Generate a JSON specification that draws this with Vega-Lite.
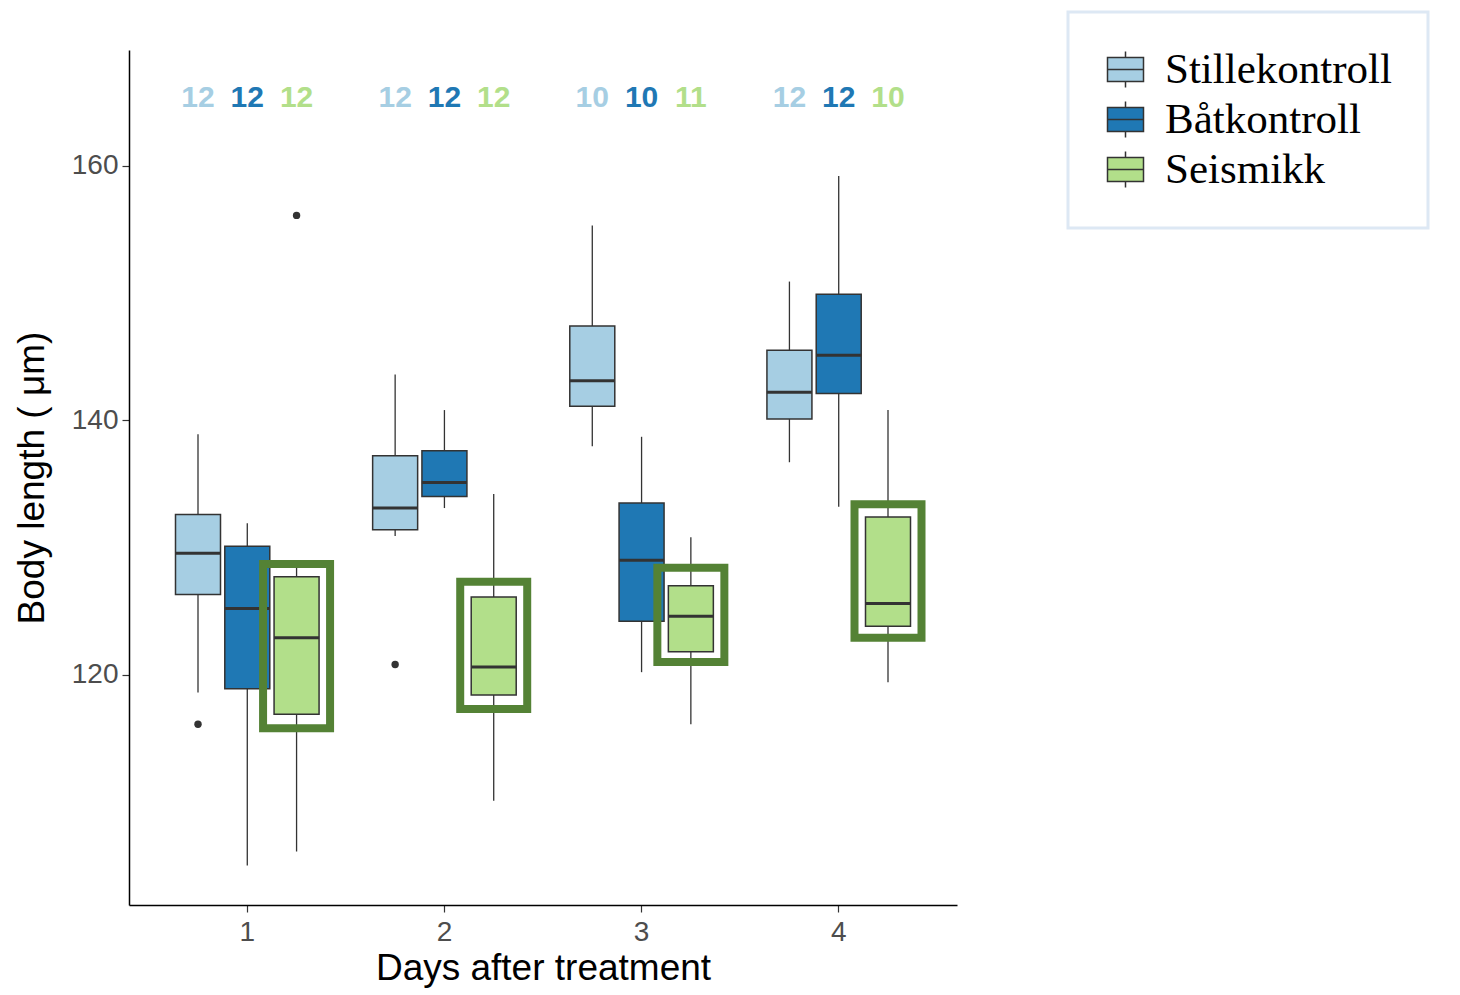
{
  "$schema": "https://vega.github.io/schema/vega-lite/v6.json",
  "autosize": {"type": "none"},
  "padding": {"left": 129, "top": 50, "right": 503, "bottom": 90},
  "width": 828,
  "height": 855,
  "background": "white",
  "config": {
    "view": {"stroke": null},
    "font": "Liberation Sans",
    "axis": {"grid": false, "domainColor": "#000000", "domainWidth": 1.5, "tickColor": "#333333", "tickWidth": 1.2, "tickSize": 7, "labelColor": "#4d4d4d", "labelFont": "Liberation Sans", "labelFontSize": 28, "titleFont": "Liberation Sans", "titleFontSize": 37, "titleFontWeight": "normal", "titleColor": "#000000"},
    "legend": {"strokeWidth": 3}
  },
  "datasets": {
    "stats": [
      {"day": "1", "group": "Stillekontroll", "lower": 118.6, "q1": 126.3, "median": 129.55, "q3": 132.6, "upper": 138.9, "n": 12},
      {"day": "1", "group": "Båtkontroll", "lower": 105.0, "q1": 118.9, "median": 125.2, "q3": 130.1, "upper": 131.9, "n": 12},
      {"day": "1", "group": "Seismikk", "lower": 106.1, "q1": 116.9, "median": 122.9, "q3": 127.7, "upper": 128.6, "n": 12},
      {"day": "2", "group": "Stillekontroll", "lower": 130.9, "q1": 131.4, "median": 133.1, "q3": 137.2, "upper": 143.6, "n": 12},
      {"day": "2", "group": "Båtkontroll", "lower": 133.1, "q1": 134.0, "median": 135.1, "q3": 137.6, "upper": 140.8, "n": 12},
      {"day": "2", "group": "Seismikk", "lower": 110.1, "q1": 118.4, "median": 120.6, "q3": 126.1, "upper": 134.2, "n": 12},
      {"day": "3", "group": "Stillekontroll", "lower": 137.95, "q1": 141.1, "median": 143.1, "q3": 147.4, "upper": 155.3, "n": 10},
      {"day": "3", "group": "Båtkontroll", "lower": 120.2, "q1": 124.2, "median": 129.0, "q3": 133.5, "upper": 138.7, "n": 10},
      {"day": "3", "group": "Seismikk", "lower": 116.1, "q1": 121.8, "median": 124.6, "q3": 127.0, "upper": 130.8, "n": 11},
      {"day": "4", "group": "Stillekontroll", "lower": 136.7, "q1": 140.1, "median": 142.2, "q3": 145.5, "upper": 150.9, "n": 12},
      {"day": "4", "group": "Båtkontroll", "lower": 133.2, "q1": 142.1, "median": 145.1, "q3": 149.9, "upper": 159.2, "n": 12},
      {"day": "4", "group": "Seismikk", "lower": 119.4, "q1": 123.8, "median": 125.6, "q3": 132.4, "upper": 140.8, "n": 10}
    ],
    "outliers": [
      {"day": "1", "group": "Stillekontroll", "value": 116.1},
      {"day": "1", "group": "Seismikk", "value": 156.1},
      {"day": "2", "group": "Stillekontroll", "value": 120.8}
    ],
    "highlight": [
      {"day": "1", "group": "Seismikk", "low": 115.8, "high": 128.7},
      {"day": "2", "group": "Seismikk", "low": 117.3, "high": 127.3},
      {"day": "3", "group": "Seismikk", "low": 121.0, "high": 128.4},
      {"day": "4", "group": "Seismikk", "low": 122.9, "high": 133.4}
    ]
  },
  "encoding": {
    "x": {"field": "day", "type": "ordinal", "scale": {"domain": ["1", "2", "3", "4"], "paddingInner": 0.25, "paddingOuter": 0.225},
      "axis": {"title": "Days after treatment", "labelAngle": 0, "labelPadding": 6, "titlePadding": 4}},
    "xOffset": {"field": "group", "type": "nominal", "scale": {"domain": ["Stillekontroll", "Båtkontroll", "Seismikk"], "paddingInner": 0, "paddingOuter": 0}}
  },
  "layer": [
    {
      "data": {"name": "stats"},
      "mark": {"type": "rule", "color": "#333333", "strokeWidth": 1.3},
      "encoding": {
        "y": {"field": "lower", "type": "quantitative", "scale": {"domain": [101.9, 169.1], "nice": false, "zero": false},
          "axis": {"title": "Body length ( μm)", "values": [120, 140, 160], "titlePadding": 20, "labelPadding": 4}},
        "y2": {"field": "upper"}
      }
    },
    {
      "data": {"name": "stats"},
      "mark": {"type": "bar", "size": 45, "stroke": "#333333", "strokeWidth": 1.5},
      "encoding": {
        "y": {"field": "q1", "type": "quantitative"},
        "y2": {"field": "q3"},
        "fill": {"field": "group", "type": "nominal",
          "scale": {"domain": ["Stillekontroll", "Båtkontroll", "Seismikk"], "range": ["#a6cee3", "#1f78b4", "#b2df8a"]},
          "legend": {"title": null, "orient": "none", "legendX": 939, "legendY": -38, "padding": 36,
            "strokeColor": "#dde8f4", "fillColor": "#ffffff",
            "symbolType": "M-1,-0.67H1V0.67H-1Z M-1,0H1 M0,-0.67V-1 M0,0.67V1",
            "symbolSize": 1296, "symbolStrokeColor": "#333333", "symbolStrokeWidth": 1.5, "symbolOpacity": 1,
            "labelFont": "Liberation Serif", "labelFontSize": 43, "labelColor": "#000000", "labelOffset": 18, "rowPadding": 6, "labelLimit": 500}}
      }
    },
    {
      "data": {"name": "stats"},
      "mark": {"type": "tick", "orient": "horizontal", "size": 45, "thickness": 3, "color": "#333333", "opacity": 1},
      "encoding": {
        "y": {"field": "median", "type": "quantitative"}
      }
    },
    {
      "data": {"name": "outliers"},
      "mark": {"type": "point", "filled": true, "color": "#333333", "size": 55, "opacity": 1},
      "encoding": {
        "y": {"field": "value", "type": "quantitative"}
      }
    },
    {
      "data": {"name": "highlight"},
      "mark": {"type": "bar", "size": 67, "fill": null, "fillOpacity": 0, "stroke": "#548235", "strokeWidth": 8},
      "encoding": {
        "y": {"field": "low", "type": "quantitative"},
        "y2": {"field": "high"}
      }
    },
    {
      "data": {"name": "stats"},
      "mark": {"type": "text", "font": "Liberation Sans", "fontSize": 30, "fontWeight": "bold", "baseline": "middle", "align": "center"},
      "encoding": {
        "y": {"datum": 165.3, "type": "quantitative"},
        "text": {"field": "n", "type": "quantitative"},
        "color": {"field": "group", "type": "nominal", "legend": null,
          "scale": {"domain": ["Stillekontroll", "Båtkontroll", "Seismikk"], "range": ["#a6cee3", "#1f78b4", "#b2df8a"]}}
      }
    }
  ]
}
